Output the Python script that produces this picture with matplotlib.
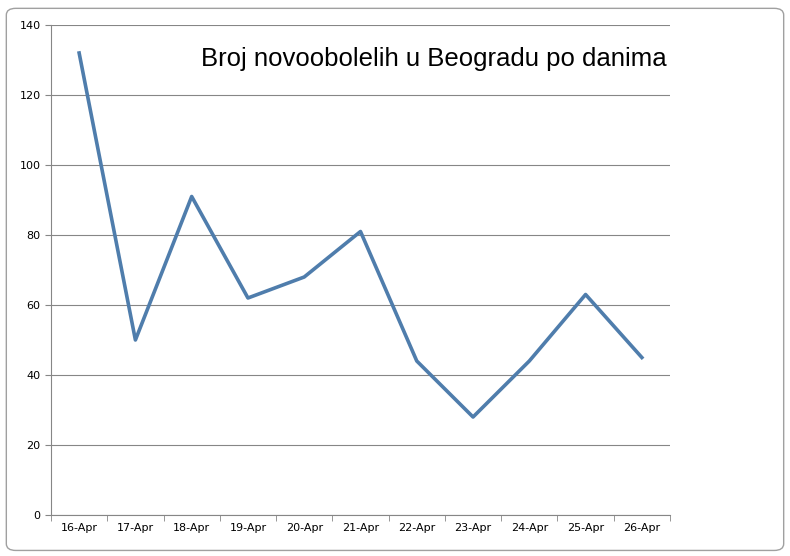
import matplotlib
matplotlib.use("Agg")
import matplotlib.pyplot as plt
from matplotlib.patches import FancyBboxPatch
import numpy as np

dates = ["16-Apr","17-Apr","18-Apr","19-Apr","20-Apr","21-Apr","22-Apr","23-Apr","24-Apr","25-Apr","26-Apr"]
values = [132, 50, 91, 62, 68, 81, 44, 28, 44, 63, 45]

fig = plt.figure(figsize=(7.9, 5.56), dpi=100)
fig.patches.append(FancyBboxPatch((0.008, 0.01), 0.984, 0.975, boxstyle="round,pad=0,rounding_size=0.012",
                                  transform=fig.transFigure, fill=False, ec="#a0a0a0", lw=1))
ax = fig.add_axes([51/790, 41/556, 619/790, 490/556])
x = np.arange(len(dates))
ax.plot(x, values, color="#4f7dac", lw=2.6)
ax.set_xlim(-0.5, len(dates)-0.5)
ax.set_ylim(0, 140)
ax.set_yticks(range(0, 141, 20))
ax.set_xticks(x)
ax.set_xticklabels(dates, fontsize=8)
ax.set_xticks(np.arange(-0.5, len(dates), 1), minor=True)
ax.tick_params(axis='x', which='major', length=0, pad=6)
ax.tick_params(axis='x', which='minor', length=4, color="#868686")
ax.tick_params(axis='y', labelsize=8, length=4, color="#868686")
ax.grid(axis='y', color="#868686", lw=0.8)
ax.set_axisbelow(True)
for s in ["top", "right"]:
    ax.spines[s].set_visible(False)
for s in ["left", "bottom"]:
    ax.spines[s].set_color("#868686")
ax.text(0.995, 0.93, "Broj novoobolelih u Beogradu po danima", transform=ax.transAxes,
        ha="right", va="center", fontsize=18.5, family="Liberation Sans")
fig.savefig("out.png", dpi=100)
